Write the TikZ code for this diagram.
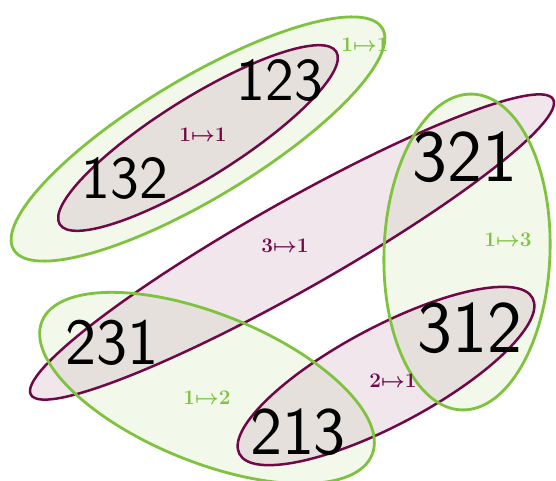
\documentclass[tikz,border=0pt]{standalone}
\usepackage{tikz}
\definecolor{ringgreen}{RGB}{126,194,62}
\definecolor{ringplum}{RGB}{112,8,72}

\begin{document}
\begin{tikzpicture}[x=1pt,y=1pt,
  greenfill/.style={fill=ringgreen,fill opacity=0.1},
  plumfill/.style={fill=ringplum,fill opacity=0.1},
  greenline/.style={draw=ringgreen,line width=2.8pt},
  plumline/.style={draw=ringplum,line width=2.5pt},
  perm/.style={font=\sffamily\fontsize{#1}{#1}\selectfont},
  tag/.style={font=\fontsize{22}{22}\selectfont\boldmath}]
\useasboundingbox (0,0) rectangle (556,-481);
\coordinate (G1) at (198,-139);
\coordinate (G2) at (467,-252);
\coordinate (G3) at (207,-388);
\coordinate (P1) at (198,-138);
\coordinate (P2) at (292,-247);
\coordinate (P3) at (386,-376);
% fills
\fill[greenfill,shift={(G1)},rotate=31] (0,0) ellipse [x radius=215,y radius=60];
\fill[greenfill,shift={(G2)},rotate=-2] (0,0) ellipse [x radius=83,y radius=158];
\fill[greenfill,shift={(G3)},rotate=-22] (0,0) ellipse [x radius=178,y radius=74];
\fill[plumfill,shift={(P1)},rotate=32] (0,0) ellipse [x radius=163,y radius=40];
\fill[plumfill,shift={(P2)},rotate=29.5] (0,0) ellipse [x radius=300,y radius=44];
\fill[plumfill,shift={(P3)},rotate=28] (0,0) ellipse [x radius=166,y radius=49];
% outlines
\draw[plumline,shift={(P1)},rotate=32] (0,0) ellipse [x radius=163,y radius=40];
\draw[plumline,shift={(P2)},rotate=29.5] (0,0) ellipse [x radius=300,y radius=44];
\draw[plumline,shift={(P3)},rotate=28] (0,0) ellipse [x radius=166,y radius=49];
\draw[greenline,shift={(G1)},rotate=31] (0,0) ellipse [x radius=215,y radius=60];
\draw[greenline,shift={(G2)},rotate=-2] (0,0) ellipse [x radius=83,y radius=158];
\draw[greenline,shift={(G3)},rotate=-22] (0,0) ellipse [x radius=178,y radius=74];
% permutations
\node[perm=61] (n123) at (280,-80) {123};
\node[perm=61] (n132) at (125,-178) {132};
\node[perm=74] (n321) at (465,-157) {321};
\node[perm=74] (n312) at (470,-328) {312};
\node[perm=66] (n231) at (112,-343) {231};
\node[perm=68] (n213) at (298,-432) {213};
% labels
\node[tag,text=ringplum] (l11a) at (203,-135) {$1{\mapsto}1$};
\node[tag,text=ringgreen] (l11b) at (365,-45) {$1{\mapsto}1$};
\node[tag,text=ringplum] (l31) at (285,-246) {$3{\mapsto}1$};
\node[tag,text=ringgreen] (l13) at (508,-240) {$1{\mapsto}3$};
\node[tag,text=ringgreen] (l12) at (207,-398) {$1{\mapsto}2$};
\node[tag,text=ringplum] (l21) at (393,-381) {$2{\mapsto}1$};
\end{tikzpicture}
\end{document}
